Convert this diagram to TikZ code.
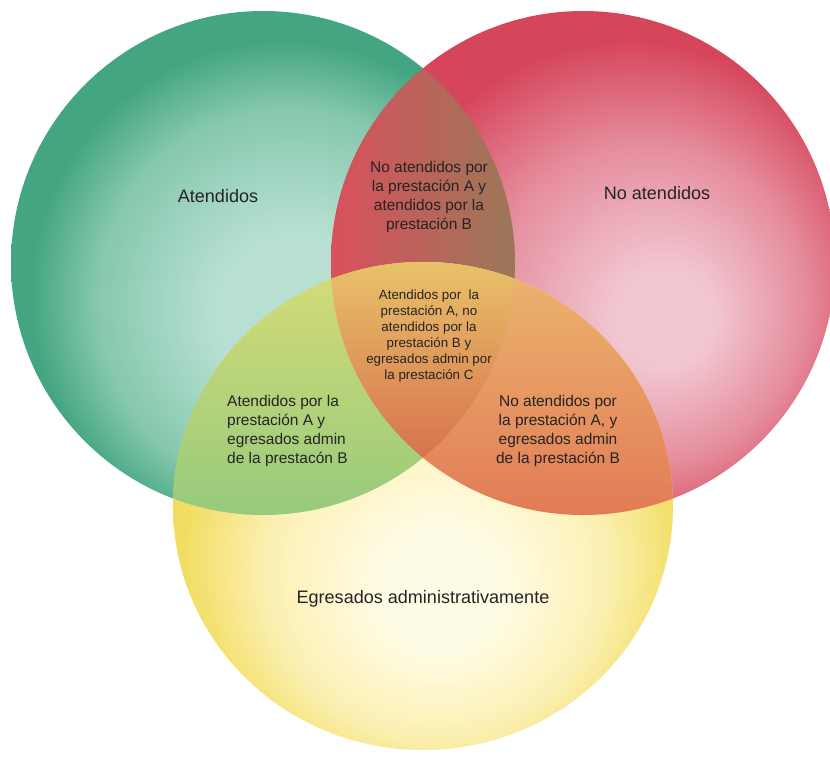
\documentclass[tikz,border=0pt]{standalone}
\usepackage{fontspec}
\setmainfont{Liberation Sans}
\definecolor{txt}{HTML}{242424}
\definecolor{gIn}{HTML}{B8E0D2}
\definecolor{gMid}{HTML}{86C8AE}
\definecolor{gOut}{HTML}{44A681}
\definecolor{rIn}{HTML}{F1C6D0}
\definecolor{rMid}{HTML}{E58C9C}
\definecolor{rOut}{HTML}{D6465B}
\definecolor{yIn}{HTML}{FFFCE6}
\definecolor{yMid}{HTML}{FBF0B2}
\definecolor{yOut}{HTML}{F2DD62}
\pgfdeclareradialshading{gball}{\pgfpoint{4bp}{-6bp}}{color(0bp)=(gIn); color(8bp)=(gIn); color(19bp)=(gMid); color(25bp)=(gOut); color(50bp)=(gOut)}
\pgfdeclareradialshading{rball}{\pgfpoint{9bp}{-6bp}}{color(0bp)=(rIn); color(5bp)=(rIn); color(16bp)=(rMid); color(25bp)=(rOut); color(50bp)=(rOut)}
\pgfdeclareradialshading{yball}{\pgfpoint{2bp}{-10bp}}{color(0bp)=(yIn); color(6bp)=(yIn); color(17bp)=(yMid); color(25bp)=(yOut); color(50bp)=(yOut)}
\tikzset{
  big/.style={font=\fontsize{15.4}{18}\selectfont, text=txt, inner sep=0pt},
  mid/.style={font=\fontsize{13.2}{16.4}\selectfont, text=txt, inner sep=0pt, align=center},
  sml/.style={font=\fontsize{11.4}{13.7}\selectfont, text=txt, inner sep=0pt, align=center},
  gcirc/.style={radius=252},
  rcirc/.style={radius=252},
  ycirc/.style={x radius=250, y radius=244}
}
\begin{document}
\begin{tikzpicture}[x=0.03cm,y=0.03cm]
\useasboundingbox (0,0) rectangle (830,-757);
\fill[white] (0,0) rectangle (830,-757);
\coordinate (G) at (263,-263);
\coordinate (R) at (583,-263);
\coordinate (Y) at (423,-506);
% base circles
\shade[shading=gball] (G) circle [gcirc];
\shade[shading=rball] (R) circle [rcirc];
% green & red lens
\begin{scope}
  \clip (G) circle [gcirc];
  \clip (R) circle [rcirc];
  \shade[left color={rgb,255:red,217;green,80;blue,92}, middle color={rgb,255:red,206;green,92;blue,86}, right color={rgb,255:red,150;green,122;blue,88}] (330,0) rectangle (530,-470);
\end{scope}
% yellow circle
\shade[shading=yball] (Y) circle [ycirc];
% yellow & green
\begin{scope}
  \clip (Y) circle [ycirc];
  \clip (G) circle [gcirc];
  \shade[top color={rgb,255:red,216;green,220;blue,120}, bottom color={rgb,255:red,150;green,202;blue,124}] (160,-255) rectangle (520,-520);
\end{scope}
% yellow & red
\begin{scope}
  \clip (Y) circle [ycirc];
  \clip (R) circle [rcirc];
  \shade[top color={rgb,255:red,236;green,184;blue,112}, bottom color={rgb,255:red,226;green,122;blue,86}] (330,-255) rectangle (690,-520);
\end{scope}
% triple
\begin{scope}
  \clip (Y) circle [ycirc];
  \clip (G) circle [gcirc];
  \clip (R) circle [rcirc];
  \shade[top color={rgb,255:red,233;green,196;blue,106}, middle color={rgb,255:red,226;green,160;blue,96}, bottom color={rgb,255:red,214;green,112;blue,76}] (330,-255) rectangle (520,-465);
\end{scope}
% labels
\node[big] (atend) at (218,-196) {Atendidos};
\node[big] (noatend) at (657,-193) {No atendidos};
\node[big] (egres) at (423,-599) {Egresados administrativamente};
\node[mid] (lens) at (429,-197) {No atendidos por\\la prestación A y\\atendidos por la\\prestación B};
\node[sml] (triple) at (429,-336) {Atendidos por~ la\\prestación A, no\\atendidos por la\\prestación B y\\egresados admin por\\la prestación C};
\node[mid, align=left, anchor=west] (ag) at (227,-431) {Atendidos por la\\prestación A y\\egresados admin\\de la prestacón B};
\node[mid] (nag) at (558,-431) {No atendidos por\\la prestación A, y\\egresados admin\\de la prestación B};
\end{tikzpicture}
\end{document}
